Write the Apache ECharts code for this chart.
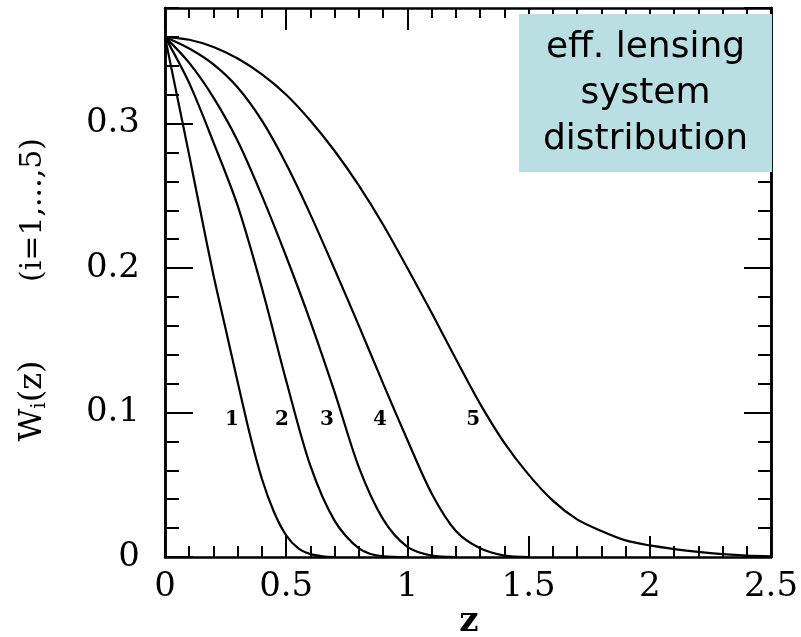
<!DOCTYPE html>
<html>
<head>
<meta charset="utf-8">
<script src="https://cdn.jsdelivr.net/npm/echarts@6/dist/echarts.min.js"></script>
<style>
  html, body { margin: 0; padding: 0; background: #fff; }
  #chart { width: 801px; height: 637px; }
</style>
</head>
<body>
<div id="chart"></div>
<script>
// Effective lensing-system weight functions W_i(z), i = 1..5
const z1 = [0, 0.05, 0.1, 0.15, 0.2, 0.25, 0.3, 0.35, 0.4, 0.45, 0.5, 0.55, 0.6, 0.65, 0.7];
const w1 = [0.360, 0.319, 0.278, 0.236, 0.195, 0.158, 0.121, 0.085, 0.054, 0.031, 0.015, 0.006, 0.002, 0.0005, 0];

const z2 = [0, 0.1, 0.2, 0.3, 0.4, 0.5, 0.6, 0.7, 0.8, 0.9, 1.0];
const w2 = [0.360, 0.328, 0.287, 0.243, 0.186, 0.122, 0.063, 0.025, 0.006, 0.0005, 0];

const z3 = [0, 0.1, 0.2, 0.3, 0.4, 0.5, 0.6, 0.7, 0.8, 0.9, 1.0, 1.1, 1.2];
const w3 = [0.360, 0.342, 0.318, 0.288, 0.250, 0.208, 0.163, 0.114, 0.062, 0.026, 0.007, 0.001, 0];

const z4 = [0, 0.1, 0.2, 0.3, 0.4, 0.5, 0.6, 0.7, 0.8, 0.9, 1.0, 1.1, 1.2, 1.3, 1.4, 1.5];
const w4 = [0.360, 0.352, 0.341, 0.325, 0.302, 0.272, 0.237, 0.199, 0.160, 0.120, 0.081, 0.044, 0.018, 0.006, 0.001, 0];

const z5 = [0, 0.1, 0.2, 0.3, 0.4, 0.5, 0.6, 0.7, 0.8, 0.9, 1.0, 1.1, 1.2, 1.3, 1.4, 1.5, 1.6, 1.7, 1.8, 1.9, 2.0, 2.1, 2.2, 2.3, 2.4, 2.5];
const w5 = [0.360, 0.358, 0.353, 0.345, 0.334, 0.320, 0.302, 0.281, 0.257, 0.230, 0.200, 0.169, 0.137, 0.106, 0.079, 0.057, 0.039, 0.026, 0.018, 0.0115, 0.008, 0.0055, 0.0035, 0.002, 0.001, 0.0005];

// Curve index labels, placed beside each curve
const labelText = ['1', '2', '3', '4', '5'];
const labelZ = [0.276, 0.483, 0.668, 0.887, 1.271];
const labelW = [0.095, 0.095, 0.095, 0.095, 0.095];

// Axis ranges and ticks
const xMin = 0, xMax = 2.5, xMajor = 0.5;
const yMin = 0, yMax = 0.38, yMajor = 0.1, yMinor = 0.02;

const curves = [[z1, w1], [z2, w2], [z3, w3], [z4, w4], [z5, w5]];

const SERIF = "'DejaVu Serif', 'Liberation Serif', serif";
const SANS = "'DejaVu Sans', 'Noto Sans', sans-serif";
const INK = '#000';

function pairs(zs, ws) { return zs.map((z, i) => [z, ws[i]]); }

function fmt(v) {
  const r = Math.round(v * 1000) / 1000;
  return String(r);
}

const xCommon = {
  type: 'value', min: xMin, max: xMax, interval: xMajor,
  splitLine: { show: false },
  axisLine: { show: true, onZero: false, lineStyle: { color: INK, width: 2.5 } }
};

const yCommon = {
  type: 'value', min: yMin, max: yMax,
  splitLine: { show: false },
  axisLine: { show: true, onZero: false, lineStyle: { color: INK, width: 2.5 } }
};

const chart = echarts.init(document.getElementById('chart'), null, { renderer: 'canvas' });

chart.setOption({
  animation: false,
  backgroundColor: '#fff',
  grid: { left: 165, right: 30, top: 8, bottom: 80, outerBoundsMode: 'none', containLabel: false },
  xAxis: [
    Object.assign({}, xCommon, {
      position: 'bottom',
      axisTick: { show: true, inside: true, length: 21, lineStyle: { color: INK, width: 2 } },
      minorTick: { show: true, splitNumber: 5, length: 11, lineStyle: { color: INK, width: 2 } },
      axisLabel: { show: true, margin: 13, color: INK, fontFamily: SERIF, fontSize: 34, formatter: fmt }
    }),
    Object.assign({}, xCommon, {
      position: 'top',
      axisTick: { show: true, inside: true, length: 22, lineStyle: { color: INK, width: 2 } },
      minorTick: { show: true, splitNumber: 5, length: 10, lineStyle: { color: INK, width: 2 } },
      axisLabel: { show: false }
    })
  ],
  yAxis: [
    Object.assign({}, yCommon, {
      position: 'left', interval: yMajor,
      axisTick: { show: true, inside: true, length: 28, lineStyle: { color: INK, width: 2 } },
      axisLabel: { show: true, margin: 25, color: INK, fontFamily: SERIF, fontSize: 34, showMaxLabel: false,
        formatter: v => (Math.abs(v / yMajor - Math.round(v / yMajor)) < 1e-6 ? fmt(v) : '') }
    }),
    Object.assign({}, yCommon, {
      position: 'left', interval: yMinor,
      axisTick: { show: true, inside: true, length: 14, lineStyle: { color: INK, width: 2 } },
      axisLabel: { show: false }
    }),
    Object.assign({}, yCommon, {
      position: 'right', interval: yMajor,
      axisTick: { show: true, inside: true, length: 27, lineStyle: { color: INK, width: 2 } },
      axisLabel: { show: false }
    }),
    Object.assign({}, yCommon, {
      position: 'right', interval: yMinor,
      axisTick: { show: true, inside: true, length: 13, lineStyle: { color: INK, width: 2 } },
      axisLabel: { show: false }
    })
  ],
  series: curves.map((c, i) => ({
    type: 'line',
    name: 'W' + (i + 1),
    xAxisIndex: 0, yAxisIndex: 0,
    data: pairs(c[0], c[1]),
    showSymbol: false,
    smooth: 0.3,
    lineStyle: { color: INK, width: 2.2 },
    z: 3
  })).concat([{
    type: 'scatter',
    name: 'curve labels',
    xAxisIndex: 0, yAxisIndex: 0,
    data: labelZ.map((z, i) => ({ value: [z, labelW[i]], name: labelText[i] })),
    symbolSize: 1,
    itemStyle: { opacity: 0 },
    label: {
      show: true, position: 'inside', formatter: p => p.name,
      color: INK, opacity: 1, fontFamily: SERIF, fontWeight: 'bold', fontSize: 20
    },
    z: 4
  }]),
  graphic: [
    // annotation box
    {
      type: 'rect', z: 100,
      shape: { x: 519, y: 14, width: 253, height: 158 },
      style: { fill: '#badfe2' }
    },
    {
      type: 'text', z: 101, x: 645.5, y: 94,
      style: {
        text: 'eff. lensing\nsystem\ndistribution',
        align: 'center', verticalAlign: 'middle',
        font: "36px " + SANS, lineHeight: 46, fill: INK
      }
    },
    // y-axis title, reading bottom to top
    {
      type: 'text', z: 50, x: 33, y: 401, rotation: Math.PI / 2,
      style: {
        text: '{w|W}{s|i}{w|(z)}',
        align: 'center', verticalAlign: 'middle',
        rich: {
          w: { fontFamily: SERIF, fontSize: 32, fill: INK, verticalAlign: 'middle' },
          s: { fontFamily: SERIF, fontSize: 20, fill: INK, padding: [14, 0, 0, 0] }
        }
      }
    },
    {
      type: 'text', z: 50, x: 33, y: 210, rotation: Math.PI / 2,
      style: {
        text: '(i=1,...,5)',
        align: 'center', verticalAlign: 'middle',
        font: "30px " + SERIF, fill: INK
      }
    },
    // x-axis title
    {
      type: 'text', z: 50, x: 469, y: 622,
      style: {
        text: 'z', align: 'center', verticalAlign: 'middle',
        font: "bold 34px " + SERIF, fill: INK
      }
    }
  ]
});
</script>
</body>
</html>
